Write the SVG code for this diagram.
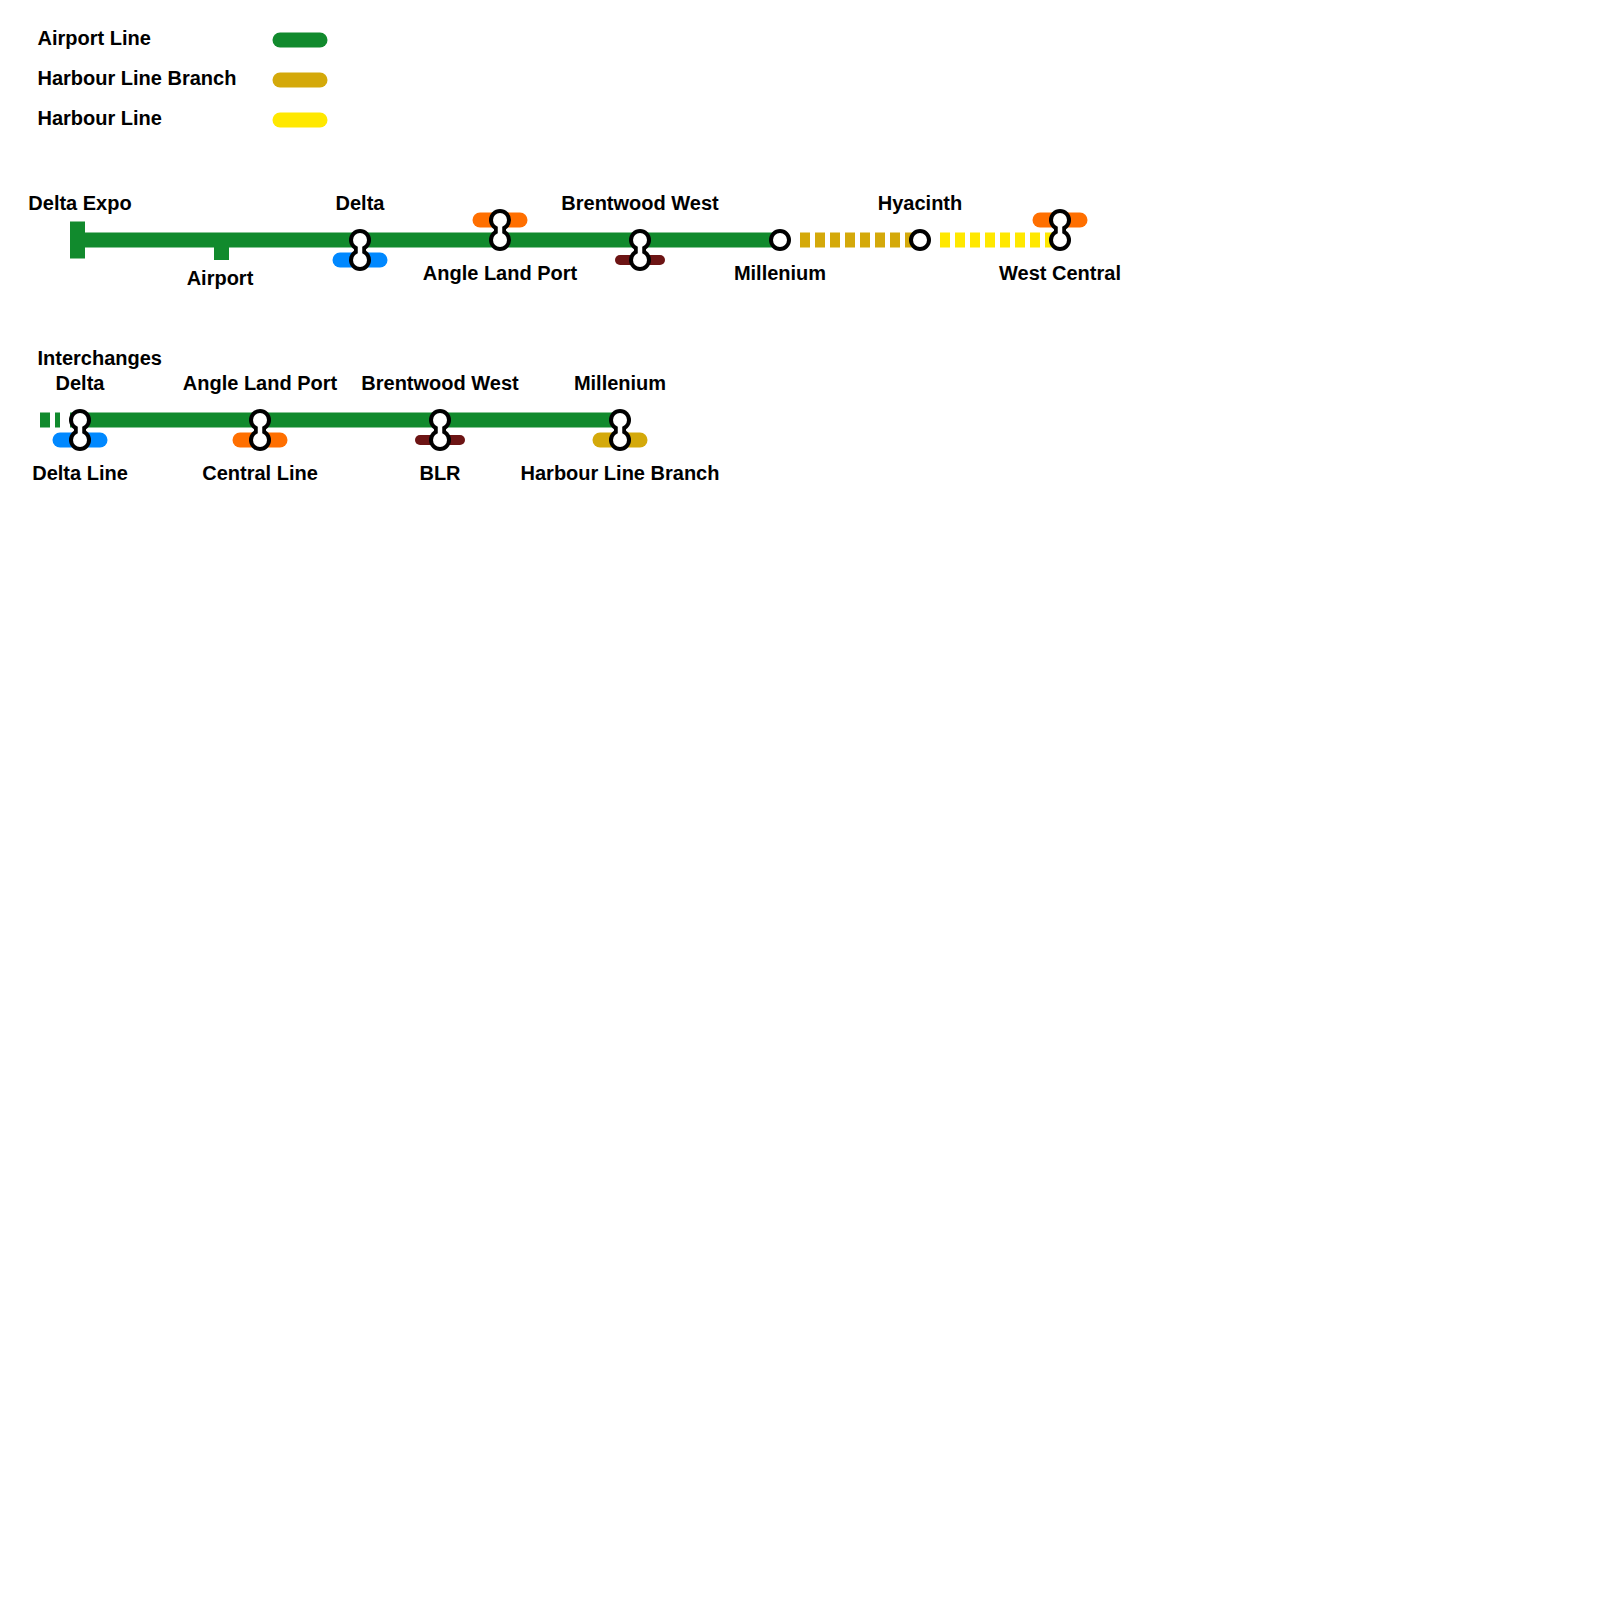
<svg xmlns="http://www.w3.org/2000/svg" width="1600" height="1600" viewBox="0 0 1600 1600">
<style>
text{font-family:"Liberation Sans",Arial,sans-serif;font-size:20px;font-weight:700;fill:#000}
.m{text-anchor:middle}
.ln{fill:none;stroke-width:15}
.rd{stroke-linecap:round}
.g{stroke:#118a2d}.au{stroke:#d4a90a}.y{stroke:#ffe800}.o{stroke:#ff6f00}.b{stroke:#0088ff}
.r{stroke:#6d1414;stroke-width:10}
.st{fill:#fff;stroke:#000;stroke-width:4}
.dash{stroke-dasharray:10 5}
</style>
<defs>
<g id="pair">
<circle r="11" fill="#000"/><circle cy="20" r="11" fill="#000"/><path d="M0 0V20" stroke="#000" stroke-width="12"/>
<circle r="7" fill="#fff"/><circle cy="20" r="7" fill="#fff"/><path d="M0 0V20" stroke="#fff" stroke-width="4.5"/>
</g>
</defs>
<rect width="1600" height="1600" fill="#fff"/>
<g id="legend">
<text x="37.5" y="45">Airport Line</text>
<text x="37.5" y="85">Harbour Line Branch</text>
<text x="37.5" y="125">Harbour Line</text>
<path class="ln rd g" d="M280 40H320"/>
<path class="ln rd au" d="M280 80H320"/>
<path class="ln rd y" d="M280 120H320"/>
</g>
<g id="connectors">
<path class="ln g" d="M70 240H780"/>
<path class="ln au dash" d="M800 240H913"/>
<path class="ln y dash" d="M940 240H1053"/>
<path class="ln rd b" d="M340 260H380"/>
<path class="ln rd o" d="M480 220H520"/>
<path class="ln rd r" d="M620 260H660"/>
<path class="ln rd o" d="M1040 220H1080"/>
<path class="ln g" d="M40 420H50M55 420H60M70 420H620"/>
<path class="ln rd b" d="M60 440H100"/>
<path class="ln rd o" d="M240 440H280"/>
<path class="ln rd r" d="M420 440H460"/>
<path class="ln rd au" d="M600 440H640"/>
</g>
<g id="delta-expo"><rect x="70" y="221.5" width="15" height="37" fill="#118a2d"/><text class="m" x="80" y="210">Delta Expo</text></g>
<g id="airport"><rect x="214" y="240" width="15" height="20" fill="#118a2d"/><text class="m" x="220" y="285">Airport</text></g>
<g id="delta"><use href="#pair" x="360" y="240"/><text class="m" x="360" y="210">Delta</text></g>
<g id="angle-land-port"><use href="#pair" x="500" y="220"/><text class="m" x="500" y="280">Angle Land Port</text></g>
<g id="brentwood-west"><use href="#pair" x="640" y="240"/><text class="m" x="640" y="210">Brentwood West</text></g>
<g id="millenium"><circle class="st" cx="780" cy="240" r="9"/><text class="m" x="780" y="280">Millenium</text></g>
<g id="hyacinth"><circle class="st" cx="920" cy="240" r="9"/><text class="m" x="920" y="210">Hyacinth</text></g>
<g id="west-central"><use href="#pair" x="1060" y="220"/><text class="m" x="1060" y="280">West Central</text></g>
<text x="37.5" y="365">Interchanges</text>
<g id="i-delta"><use href="#pair" x="80" y="420"/><text class="m" x="80" y="390">Delta</text><text class="m" x="80" y="480">Delta Line</text></g>
<g id="i-angle"><use href="#pair" x="260" y="420"/><text class="m" x="260" y="390">Angle Land Port</text><text class="m" x="260" y="480">Central Line</text></g>
<g id="i-brentwood"><use href="#pair" x="440" y="420"/><text class="m" x="440" y="390">Brentwood West</text><text class="m" x="440" y="480">BLR</text></g>
<g id="i-millenium"><use href="#pair" x="620" y="420"/><text class="m" x="620" y="390">Millenium</text><text class="m" x="620" y="480">Harbour Line Branch</text></g>
</svg>
